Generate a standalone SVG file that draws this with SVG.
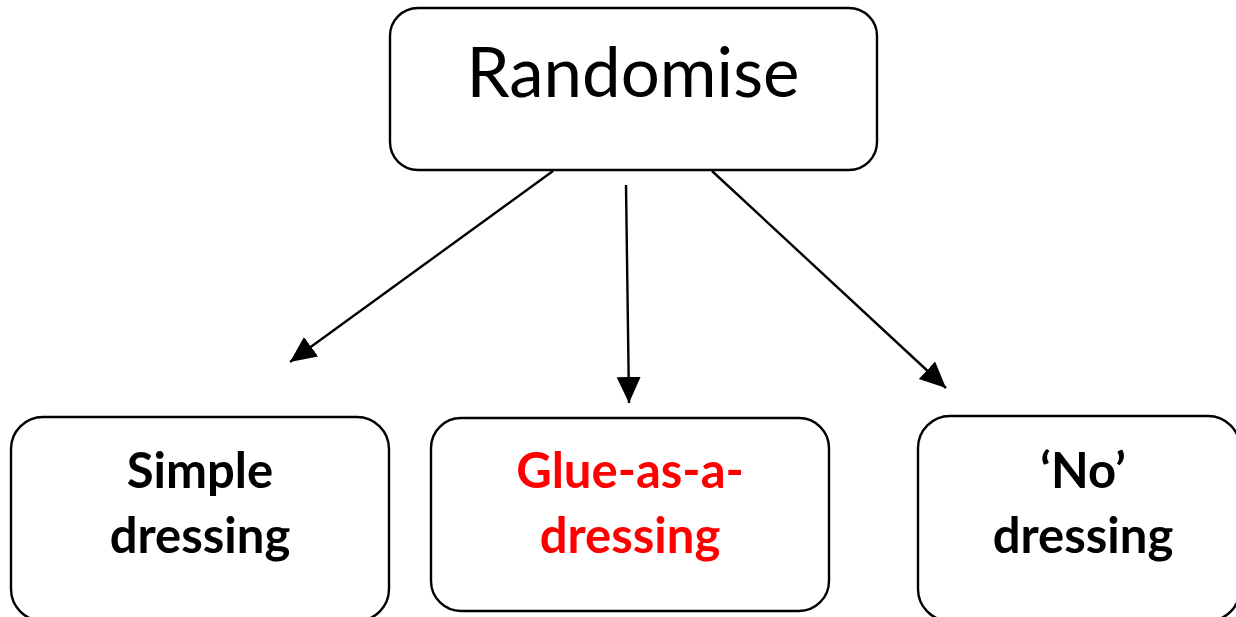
<svg xmlns="http://www.w3.org/2000/svg" width="1236" height="617" viewBox="0 0 1236 617">
<style>
.box{fill:#fff;stroke:#000;stroke-width:2.4}
.t{font-family:Lato,"Open Sans","Liberation Sans",sans-serif;text-anchor:middle}
.b{font-weight:bold;font-size:49px}
.c{stroke:#000;stroke-width:2.4;fill:none}
</style>
<defs>
<marker id="ah" markerUnits="userSpaceOnUse" markerWidth="30" markerHeight="26" refX="26" refY="12" orient="auto">
<path d="M0,0 L26,12 L0,24 Z" fill="#000"/>
</marker>
</defs>
<rect width="1236" height="617" fill="#fff"/>
<g id="connectors">
<line class="c" x1="553" y1="171" x2="290" y2="362" marker-end="url(#ah)"/>
<line class="c" x1="626" y1="185" x2="629" y2="403" marker-end="url(#ah)"/>
<line class="c" x1="712" y1="171" x2="946" y2="388" marker-end="url(#ah)"/>
</g>
<g id="randomise">
<rect class="box" x="390" y="8" width="487" height="162" rx="28"/>
<text class="t" x="633" y="97" font-size="69">Randomise</text>
</g>
<g id="simple">
<rect class="box" x="11" y="417" width="378" height="204" rx="32"/>
<text class="t b" x="200" y="488">Simple</text>
<text class="t b" x="200" y="553">dressing</text>
</g>
<g id="glue">
<rect class="box" x="431" y="418" width="398" height="193" rx="30"/>
<text class="t b" x="630" y="488" fill="#ff0000">Glue-as-a-</text>
<text class="t b" x="630" y="553" fill="#ff0000">dressing</text>
</g>
<g id="nodressing">
<rect class="box" x="918" y="416" width="322" height="205" rx="32"/>
<text class="t b" x="1083" y="488">‘No’</text>
<text class="t b" x="1083" y="553">dressing</text>
</g>
</svg>
